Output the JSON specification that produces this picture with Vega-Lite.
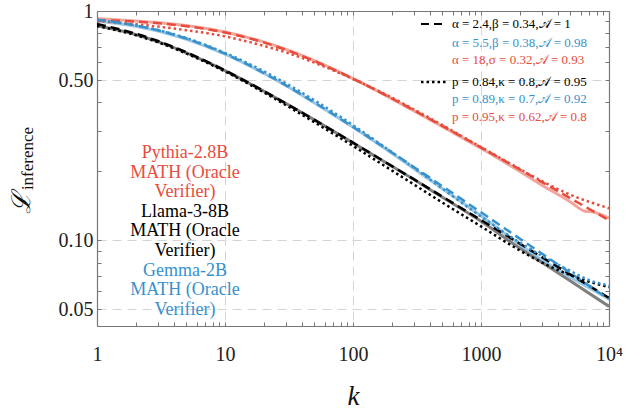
{
  "$schema": "https://vega.github.io/schema/vega-lite/v6.json",
  "width": 512,
  "height": 315,
  "autosize": "none",
  "padding": {"left": 97, "top": 11, "right": 26, "bottom": 87},
  "background": "white",
  "config": {"view": {"stroke": null}, "font": "Times New Roman, Liberation Serif, DejaVu Serif, serif"},
  "datasets": {
    "curves": [
      {"m": "Pythia", "f": "emp", "k": 1, "L": 0.925}, {"m": "Pythia", "f": "emp", "k": 2, "L": 0.905}, {"m": "Pythia", "f": "emp", "k": 3, "L": 0.89}, {"m": "Pythia", "f": "emp", "k": 5, "L": 0.865}, {"m": "Pythia", "f": "emp", "k": 10, "L": 0.81}, {"m": "Pythia", "f": "emp", "k": 20, "L": 0.733}, {"m": "Pythia", "f": "emp", "k": 30, "L": 0.68}, {"m": "Pythia", "f": "emp", "k": 50, "L": 0.607}, {"m": "Pythia", "f": "emp", "k": 100, "L": 0.507}, {"m": "Pythia", "f": "emp", "k": 200, "L": 0.415}, {"m": "Pythia", "f": "emp", "k": 300, "L": 0.367}, {"m": "Pythia", "f": "emp", "k": 500, "L": 0.313}, {"m": "Pythia", "f": "emp", "k": 1000, "L": 0.252}, {"m": "Pythia", "f": "emp", "k": 2000, "L": 0.2}, {"m": "Pythia", "f": "emp", "k": 3000, "L": 0.174}, {"m": "Pythia", "f": "emp", "k": 5000, "L": 0.147}, {"m": "Pythia", "f": "emp", "k": 6500, "L": 0.134}, {"m": "Pythia", "f": "emp", "k": 7500, "L": 0.133}, {"m": "Pythia", "f": "emp", "k": 10000, "L": 0.125},
      {"m": "Pythia", "f": "beta", "k": 1, "L": 0.9138}, {"m": "Pythia", "f": "beta", "k": 2, "L": 0.8986}, {"m": "Pythia", "f": "beta", "k": 3, "L": 0.8845}, {"m": "Pythia", "f": "beta", "k": 5, "L": 0.8587}, {"m": "Pythia", "f": "beta", "k": 10, "L": 0.8056}, {"m": "Pythia", "f": "beta", "k": 20, "L": 0.7298}, {"m": "Pythia", "f": "beta", "k": 30, "L": 0.6769}, {"m": "Pythia", "f": "beta", "k": 50, "L": 0.6051}, {"m": "Pythia", "f": "beta", "k": 100, "L": 0.5069}, {"m": "Pythia", "f": "beta", "k": 200, "L": 0.4164}, {"m": "Pythia", "f": "beta", "k": 300, "L": 0.3689}, {"m": "Pythia", "f": "beta", "k": 500, "L": 0.3155}, {"m": "Pythia", "f": "beta", "k": 1000, "L": 0.2541}, {"m": "Pythia", "f": "beta", "k": 2000, "L": 0.2041}, {"m": "Pythia", "f": "beta", "k": 3000, "L": 0.1795}, {"m": "Pythia", "f": "beta", "k": 5000, "L": 0.1525}, {"m": "Pythia", "f": "beta", "k": 10000, "L": 0.1223},
      {"m": "Pythia", "f": "dot", "k": 1, "L": 0.905}, {"m": "Pythia", "f": "dot", "k": 2, "L": 0.875}, {"m": "Pythia", "f": "dot", "k": 3, "L": 0.855}, {"m": "Pythia", "f": "dot", "k": 5, "L": 0.825}, {"m": "Pythia", "f": "dot", "k": 10, "L": 0.775}, {"m": "Pythia", "f": "dot", "k": 20, "L": 0.705}, {"m": "Pythia", "f": "dot", "k": 30, "L": 0.66}, {"m": "Pythia", "f": "dot", "k": 50, "L": 0.595}, {"m": "Pythia", "f": "dot", "k": 100, "L": 0.505}, {"m": "Pythia", "f": "dot", "k": 200, "L": 0.42}, {"m": "Pythia", "f": "dot", "k": 300, "L": 0.372}, {"m": "Pythia", "f": "dot", "k": 500, "L": 0.318}, {"m": "Pythia", "f": "dot", "k": 1000, "L": 0.255}, {"m": "Pythia", "f": "dot", "k": 2000, "L": 0.205}, {"m": "Pythia", "f": "dot", "k": 3000, "L": 0.181}, {"m": "Pythia", "f": "dot", "k": 5000, "L": 0.158}, {"m": "Pythia", "f": "dot", "k": 10000, "L": 0.138},
      {"m": "Llama", "f": "emp", "k": 1, "L": 0.862}, {"m": "Llama", "f": "emp", "k": 2, "L": 0.79}, {"m": "Llama", "f": "emp", "k": 3, "L": 0.735}, {"m": "Llama", "f": "emp", "k": 5, "L": 0.657}, {"m": "Llama", "f": "emp", "k": 10, "L": 0.55}, {"m": "Llama", "f": "emp", "k": 20, "L": 0.448}, {"m": "Llama", "f": "emp", "k": 30, "L": 0.395}, {"m": "Llama", "f": "emp", "k": 50, "L": 0.335}, {"m": "Llama", "f": "emp", "k": 100, "L": 0.266}, {"m": "Llama", "f": "emp", "k": 200, "L": 0.211}, {"m": "Llama", "f": "emp", "k": 300, "L": 0.184}, {"m": "Llama", "f": "emp", "k": 500, "L": 0.154}, {"m": "Llama", "f": "emp", "k": 1000, "L": 0.121}, {"m": "Llama", "f": "emp", "k": 2000, "L": 0.0925}, {"m": "Llama", "f": "emp", "k": 3000, "L": 0.08}, {"m": "Llama", "f": "emp", "k": 5000, "L": 0.0665}, {"m": "Llama", "f": "emp", "k": 10000, "L": 0.0515},
      {"m": "Llama", "f": "beta", "k": 1, "L": 0.8771}, {"m": "Llama", "f": "beta", "k": 2, "L": 0.7969}, {"m": "Llama", "f": "beta", "k": 3, "L": 0.7395}, {"m": "Llama", "f": "beta", "k": 5, "L": 0.6605}, {"m": "Llama", "f": "beta", "k": 10, "L": 0.5507}, {"m": "Llama", "f": "beta", "k": 20, "L": 0.4485}, {"m": "Llama", "f": "beta", "k": 30, "L": 0.395}, {"m": "Llama", "f": "beta", "k": 50, "L": 0.335}, {"m": "Llama", "f": "beta", "k": 100, "L": 0.2665}, {"m": "Llama", "f": "beta", "k": 200, "L": 0.2112}, {"m": "Llama", "f": "beta", "k": 300, "L": 0.1843}, {"m": "Llama", "f": "beta", "k": 500, "L": 0.155}, {"m": "Llama", "f": "beta", "k": 1000, "L": 0.1226}, {"m": "Llama", "f": "beta", "k": 2000, "L": 0.0969}, {"m": "Llama", "f": "beta", "k": 3000, "L": 0.0844}, {"m": "Llama", "f": "beta", "k": 5000, "L": 0.0709}, {"m": "Llama", "f": "beta", "k": 10000, "L": 0.0561},
      {"m": "Llama", "f": "dot", "k": 1, "L": 0.86}, {"m": "Llama", "f": "dot", "k": 2, "L": 0.785}, {"m": "Llama", "f": "dot", "k": 3, "L": 0.73}, {"m": "Llama", "f": "dot", "k": 5, "L": 0.652}, {"m": "Llama", "f": "dot", "k": 10, "L": 0.545}, {"m": "Llama", "f": "dot", "k": 20, "L": 0.442}, {"m": "Llama", "f": "dot", "k": 30, "L": 0.388}, {"m": "Llama", "f": "dot", "k": 50, "L": 0.327}, {"m": "Llama", "f": "dot", "k": 100, "L": 0.258}, {"m": "Llama", "f": "dot", "k": 200, "L": 0.202}, {"m": "Llama", "f": "dot", "k": 300, "L": 0.175}, {"m": "Llama", "f": "dot", "k": 500, "L": 0.146}, {"m": "Llama", "f": "dot", "k": 1000, "L": 0.115}, {"m": "Llama", "f": "dot", "k": 2000, "L": 0.0905}, {"m": "Llama", "f": "dot", "k": 3000, "L": 0.08}, {"m": "Llama", "f": "dot", "k": 5000, "L": 0.0705}, {"m": "Llama", "f": "dot", "k": 7000, "L": 0.066}, {"m": "Llama", "f": "dot", "k": 10000, "L": 0.0625},
      {"m": "Gemma", "f": "emp", "k": 1, "L": 0.905}, {"m": "Gemma", "f": "emp", "k": 2, "L": 0.858}, {"m": "Gemma", "f": "emp", "k": 3, "L": 0.818}, {"m": "Gemma", "f": "emp", "k": 5, "L": 0.752}, {"m": "Gemma", "f": "emp", "k": 10, "L": 0.648}, {"m": "Gemma", "f": "emp", "k": 20, "L": 0.535}, {"m": "Gemma", "f": "emp", "k": 30, "L": 0.472}, {"m": "Gemma", "f": "emp", "k": 50, "L": 0.397}, {"m": "Gemma", "f": "emp", "k": 100, "L": 0.311}, {"m": "Gemma", "f": "emp", "k": 200, "L": 0.24}, {"m": "Gemma", "f": "emp", "k": 300, "L": 0.205}, {"m": "Gemma", "f": "emp", "k": 500, "L": 0.168}, {"m": "Gemma", "f": "emp", "k": 1000, "L": 0.128}, {"m": "Gemma", "f": "emp", "k": 2000, "L": 0.096}, {"m": "Gemma", "f": "emp", "k": 3000, "L": 0.082}, {"m": "Gemma", "f": "emp", "k": 5000, "L": 0.069}, {"m": "Gemma", "f": "emp", "k": 10000, "L": 0.0555},
      {"m": "Gemma", "f": "beta", "k": 1, "L": 0.9165}, {"m": "Gemma", "f": "beta", "k": 2, "L": 0.8658}, {"m": "Gemma", "f": "beta", "k": 3, "L": 0.824}, {"m": "Gemma", "f": "beta", "k": 5, "L": 0.7584}, {"m": "Gemma", "f": "beta", "k": 10, "L": 0.6517}, {"m": "Gemma", "f": "beta", "k": 20, "L": 0.5377}, {"m": "Gemma", "f": "beta", "k": 30, "L": 0.4736}, {"m": "Gemma", "f": "beta", "k": 50, "L": 0.3991}, {"m": "Gemma", "f": "beta", "k": 100, "L": 0.3124}, {"m": "Gemma", "f": "beta", "k": 200, "L": 0.2423}, {"m": "Gemma", "f": "beta", "k": 300, "L": 0.2084}, {"m": "Gemma", "f": "beta", "k": 500, "L": 0.1721}, {"m": "Gemma", "f": "beta", "k": 1000, "L": 0.1325}, {"m": "Gemma", "f": "beta", "k": 2000, "L": 0.1019}, {"m": "Gemma", "f": "beta", "k": 3000, "L": 0.0874}, {"m": "Gemma", "f": "beta", "k": 5000, "L": 0.072}, {"m": "Gemma", "f": "beta", "k": 10000, "L": 0.0553},
      {"m": "Gemma", "f": "dot", "k": 1, "L": 0.915}, {"m": "Gemma", "f": "dot", "k": 2, "L": 0.866}, {"m": "Gemma", "f": "dot", "k": 3, "L": 0.826}, {"m": "Gemma", "f": "dot", "k": 5, "L": 0.762}, {"m": "Gemma", "f": "dot", "k": 10, "L": 0.657}, {"m": "Gemma", "f": "dot", "k": 20, "L": 0.547}, {"m": "Gemma", "f": "dot", "k": 30, "L": 0.483}, {"m": "Gemma", "f": "dot", "k": 50, "L": 0.408}, {"m": "Gemma", "f": "dot", "k": 100, "L": 0.318}, {"m": "Gemma", "f": "dot", "k": 200, "L": 0.243}, {"m": "Gemma", "f": "dot", "k": 300, "L": 0.207}, {"m": "Gemma", "f": "dot", "k": 500, "L": 0.168}, {"m": "Gemma", "f": "dot", "k": 1000, "L": 0.127}, {"m": "Gemma", "f": "dot", "k": 2000, "L": 0.098}, {"m": "Gemma", "f": "dot", "k": 3000, "L": 0.0855}, {"m": "Gemma", "f": "dot", "k": 5000, "L": 0.0735}, {"m": "Gemma", "f": "dot", "k": 7000, "L": 0.067}, {"m": "Gemma", "f": "dot", "k": 10000, "L": 0.0635}
    ]
  },
  "layer": [
    {
      "data": {"name": "curves"},
      "transform": [{"filter": "datum.f == 'emp'"}],
      "mark": {"type": "line", "strokeWidth": 3, "opacity": 0.5, "interpolate": "monotone", "clip": true},
      "encoding": {
        "x": {"field": "k", "type": "quantitative", "scale": {"type": "log", "domain": [1, 10000], "nice": false},
          "axis": {"orient": "bottom", "values": [1,2,3,4,5,6,7,8,9,10,20,30,40,50,60,70,80,90,100,200,300,400,500,600,700,800,900,1000,2000,3000,4000,5000,6000,7000,8000,9000,10000],
            "labelExpr": "datum.value==1?'1':datum.value==10?'10':datum.value==100?'100':datum.value==1000?'1000':datum.value==10000?'10⁴':''",
            "labelFont": "Times New Roman, Liberation Serif, DejaVu Serif, serif", "labelFontSize": 20, "labelColor": "#222", "labelPadding": 22, "labelFlush": false, "labelOverlap": false,
            "tickSize": -4, "tickColor": "#777", "tickWidth": 1, "domainColor": "#777", "domainWidth": 1.2,
            "grid": true, "gridColor": "#d4d4d4", "gridDash": [9, 6], "gridWidth": 1,
            "gridOpacity": {"condition": {"test": "datum.value==10||datum.value==100||datum.value==1000", "value": 1}, "value": 0},
            "title": "k", "titleFont": "Times New Roman, Liberation Serif, DejaVu Serif, serif", "titleFontStyle": "italic", "titleFontWeight": "normal", "titleFontSize": 27, "titleColor": "#111", "titlePadding": 19}},
        "y": {"field": "L", "type": "quantitative", "scale": {"type": "log", "domain": [0.0423, 1], "nice": false},
          "axis": {"orient": "left", "values": [0.05,0.06,0.07,0.08,0.09,0.1,0.2,0.3,0.4,0.5,0.6,0.7,0.8,0.9,1],
            "labelExpr": "datum.value==1?'1':datum.value==0.5?'0.50':datum.value==0.1?'0.10':datum.value==0.05?'0.05':''",
            "labelFont": "Times New Roman, Liberation Serif, DejaVu Serif, serif", "labelFontSize": 20, "labelColor": "#222", "labelPadding": 8, "labelOverlap": false, "labelFlush": false,
            "tickSize": -4, "tickColor": "#777", "tickWidth": 1, "domainColor": "#777", "domainWidth": 1.2,
            "grid": true, "gridColor": "#d4d4d4", "gridDash": [9, 6], "gridWidth": 1,
            "gridOpacity": {"condition": {"test": "datum.value==0.05||datum.value==0.1||datum.value==0.5", "value": 1}, "value": 0},
            "title": "ℒ", "titleFont": "DejaVu Serif", "titleFontStyle": "italic", "titleFontWeight": "normal", "titleFontSize": 26, "titleColor": "#111",
            "titleX": -68, "titleY": 191, "titleAngle": 270, "titleAlign": "center", "titleBaseline": "alphabetic"}},
        "color": {"field": "m", "type": "nominal", "scale": {"domain": ["Pythia", "Llama", "Gemma"], "range": ["#e74c3c", "#000000", "#3891cc"]}, "legend": null}
      }
    },
    {
      "data": {"name": "curves"},
      "transform": [{"filter": "datum.f == 'beta'"}],
      "mark": {"type": "line", "strokeWidth": 2.5, "strokeDash": [9, 5], "interpolate": "monotone", "clip": true},
      "encoding": {
        "x": {"field": "k", "type": "quantitative", "axis": null},
        "y": {"field": "L", "type": "quantitative", "axis": null},
        "color": {"field": "m", "type": "nominal", "legend": null}
      }
    },
    {
      "data": {"name": "curves"},
      "transform": [{"filter": "datum.f == 'dot'"}],
      "mark": {"type": "line", "strokeWidth": 2.5, "strokeDash": [2.5, 3], "interpolate": "monotone", "clip": true},
      "encoding": {
        "x": {"field": "k", "type": "quantitative", "axis": null},
        "y": {"field": "L", "type": "quantitative", "axis": null},
        "color": {"field": "m", "type": "nominal", "legend": null}
      }
    },
    {
      "data": {"name": "curves"},
      "mark": {"type": "point", "opacity": 0},
      "encoding": {
        "x": {"field": "k", "type": "quantitative",
          "axis": {"orient": "top", "values": [1,2,3,4,5,6,7,8,9,10,20,30,40,50,60,70,80,90,100,200,300,400,500,600,700,800,900,1000,2000,3000,4000,5000,6000,7000,8000,9000,10000],
            "labels": false, "tickSize": -4, "tickColor": "#777", "domainColor": "#777", "domainWidth": 1.2, "grid": false, "title": null}},
        "y": {"field": "L", "type": "quantitative",
          "axis": {"orient": "right", "values": [0.05,0.06,0.07,0.08,0.09,0.1,0.2,0.3,0.4,0.5,0.6,0.7,0.8,0.9,1],
            "labels": false, "tickSize": -4, "tickColor": "#777", "domainColor": "#777", "domainWidth": 1.2, "grid": false, "title": null}}
      }
    },
    {
      "data": {"values": [{}]},
      "mark": {"type": "text", "align": "center", "baseline": "middle", "fontSize": 18, "lineHeight": 19.6, "font": "Times New Roman, Liberation Serif, DejaVu Serif, serif", "color": "#e74c3c", "text": ["Pythia-2.8B", "MATH (Oracle", "Verifier)"]},
      "encoding": {"x": {"datum": 4.87, "type": "quantitative", "axis": null}, "y": {"datum": 0.2404, "type": "quantitative", "axis": null}}
    },
    {
      "data": {"values": [{}]},
      "mark": {"type": "text", "align": "center", "baseline": "middle", "fontSize": 18, "lineHeight": 19.6, "font": "Times New Roman, Liberation Serif, DejaVu Serif, serif", "color": "#000000", "text": ["Llama-3-8B", "MATH (Oracle", "Verifier)"]},
      "encoding": {"x": {"datum": 4.87, "type": "quantitative", "axis": null}, "y": {"datum": 0.1331, "type": "quantitative", "axis": null}}
    },
    {
      "data": {"values": [{}]},
      "mark": {"type": "text", "align": "center", "baseline": "middle", "fontSize": 18, "lineHeight": 19.6, "font": "Times New Roman, Liberation Serif, DejaVu Serif, serif", "color": "#3891cc", "text": ["Gemma-2B", "MATH (Oracle", "Verifier)"]},
      "encoding": {"x": {"datum": 4.87, "type": "quantitative", "axis": null}, "y": {"datum": 0.0738, "type": "quantitative", "axis": null}}
    },
    {
      "data": {"values": [{}]},
      "mark": {"type": "text", "align": "left", "baseline": "middle", "fontSize": 13, "font": "Times New Roman, Liberation Serif, DejaVu Serif, serif", "color": "#000000", "text": "α = 2.4,β = 0.34,𝒜 = 1"},
      "encoding": {"x": {"datum": 593, "type": "quantitative", "axis": null}, "y": {"datum": 0.8785, "type": "quantitative", "axis": null}}
    },
    {
      "data": {"values": [{}]},
      "mark": {"type": "text", "align": "left", "baseline": "middle", "fontSize": 13, "font": "Times New Roman, Liberation Serif, DejaVu Serif, serif", "color": "#3891cc", "text": "α = 5.5,β = 0.38,𝒜 = 0.98"},
      "encoding": {"x": {"datum": 593, "type": "quantitative", "axis": null}, "y": {"datum": 0.7258, "type": "quantitative", "axis": null}}
    },
    {
      "data": {"values": [{}]},
      "mark": {"type": "text", "align": "left", "baseline": "middle", "fontSize": 13, "font": "Times New Roman, Liberation Serif, DejaVu Serif, serif", "color": "#e74c3c", "text": "α = 18,σ = 0.32,𝒜 = 0.93"},
      "encoding": {"x": {"datum": 593, "type": "quantitative", "axis": null}, "y": {"datum": 0.6087, "type": "quantitative", "axis": null}}
    },
    {
      "data": {"values": [{}]},
      "mark": {"type": "text", "align": "left", "baseline": "middle", "fontSize": 13, "font": "Times New Roman, Liberation Serif, DejaVu Serif, serif", "color": "#000000", "text": "p = 0.84,κ = 0.8,𝒜 = 0.95"},
      "encoding": {"x": {"datum": 593, "type": "quantitative", "axis": null}, "y": {"datum": 0.4905, "type": "quantitative", "axis": null}}
    },
    {
      "data": {"values": [{}]},
      "mark": {"type": "text", "align": "left", "baseline": "middle", "fontSize": 13, "font": "Times New Roman, Liberation Serif, DejaVu Serif, serif", "color": "#3891cc", "text": "p = 0.89,κ = 0.7,𝒜 = 0.92"},
      "encoding": {"x": {"datum": 593, "type": "quantitative", "axis": null}, "y": {"datum": 0.4136, "type": "quantitative", "axis": null}}
    },
    {
      "data": {"values": [{}]},
      "mark": {"type": "text", "align": "left", "baseline": "middle", "fontSize": 13, "font": "Times New Roman, Liberation Serif, DejaVu Serif, serif", "color": "#e74c3c", "text": "p = 0.95,κ = 0.62,𝒜 = 0.8"},
      "encoding": {"x": {"datum": 593, "type": "quantitative", "axis": null}, "y": {"datum": 0.345, "type": "quantitative", "axis": null}}
    },
    {
      "data": {"values": [{}]},
      "mark": {"type": "rule", "color": "#000000", "strokeWidth": 2, "strokeDash": [8, 5]},
      "encoding": {"x": {"datum": 340, "type": "quantitative", "axis": null}, "x2": {"datum": 542}, "y": {"datum": 0.8785, "type": "quantitative", "axis": null}}
    },
    {
      "data": {"values": [{}]},
      "mark": {"type": "rule", "color": "#000000", "strokeWidth": 2.5, "strokeDash": [2.5, 3]},
      "encoding": {"x": {"datum": 340, "type": "quantitative", "axis": null}, "x2": {"datum": 542}, "y": {"datum": 0.4905, "type": "quantitative", "axis": null}}
    },
    {
      "data": {"name": "curves"},
      "mark": {"type": "point", "opacity": 0},
      "encoding": {
        "x": {"field": "k", "type": "quantitative", "axis": null},
        "y": {"field": "L", "type": "quantitative",
          "axis": {"orient": "left", "labels": false, "ticks": false, "domain": false, "grid": false, "title": "inference",
            "titleFont": "Times New Roman, Liberation Serif, DejaVu Serif, serif", "titleFontWeight": "normal", "titleFontSize": 17, "titleColor": "#111",
            "titleX": -65, "titleY": 147, "titleAngle": 270, "titleAlign": "center", "titleBaseline": "alphabetic"}}
      }
    }
  ],
  "resolve": {"axis": {"x": "independent", "y": "independent"}}
}
